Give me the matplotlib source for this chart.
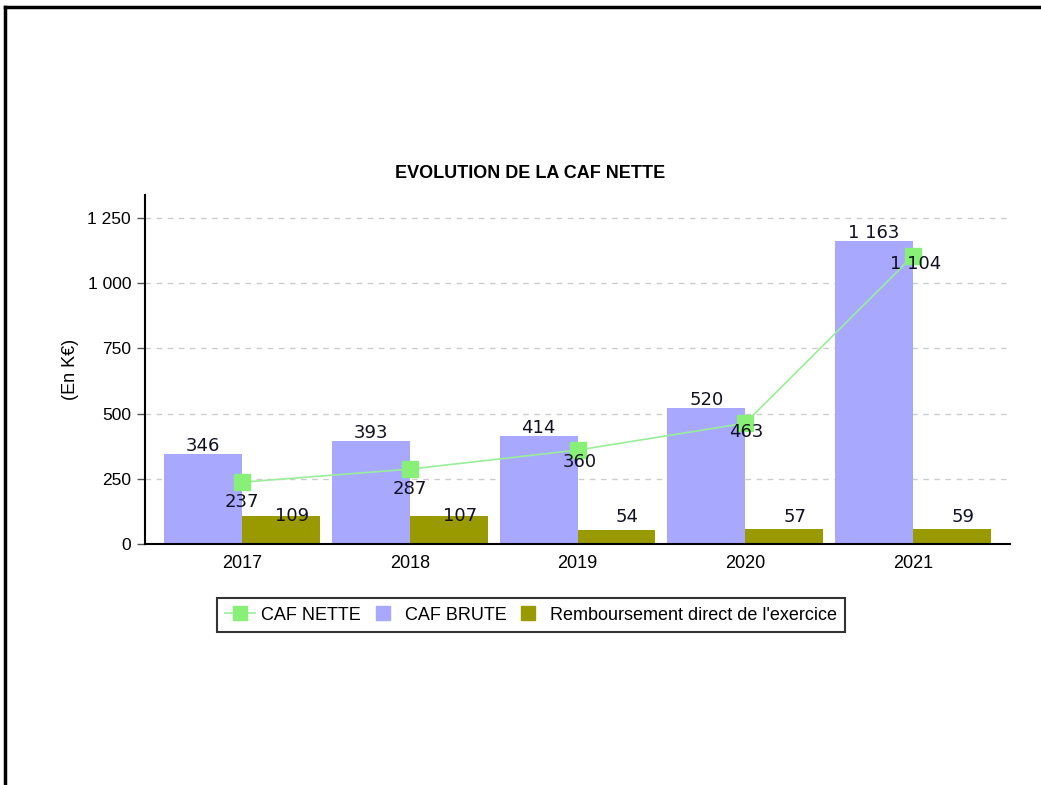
import matplotlib
matplotlib.use("Agg")
import matplotlib.pyplot as plt
from matplotlib.lines import Line2D
from matplotlib.ticker import FuncFormatter
import numpy as np

years = ["2017", "2018", "2019", "2020", "2021"]
caf_brute = [346, 393, 414, 520, 1163]
remboursement = [109, 107, 54, 57, 59]
caf_nette = [237, 287, 360, 463, 1104]
y_ticks = [0, 250, 500, 750, 1000, 1250]

# styling
C_BRUTE = "#a8a8ff"
C_REMB = "#999900"
C_LINE = "#99ee99"
C_MARK = "#88f077"
nette_label_offsets = [20, 20, 12, 9, 8]  # px below marker
nette_label_dx = [0, 0, 2, 1, 3]

plt.rcParams["font.family"] = ["Liberation Sans", "DejaVu Sans"]

fig = plt.figure(figsize=(10.41, 7.85), dpi=100)
ax = fig.add_axes([145 / 1041, 241 / 785, 865 / 1041, 349 / 785])

x = np.arange(len(years))
w = 0.464
ax.bar(x - w / 2, caf_brute, width=w, color=C_BRUTE, zorder=2)
ax.bar(x + w / 2, remboursement, width=w, color=C_REMB, zorder=2)
ax.plot(x, caf_nette, color=C_LINE, lw=1.2, marker="s", markersize=11,
        markerfacecolor=C_MARK, markeredgecolor=C_MARK, zorder=4)

lab_font = dict(family="DejaVu Sans", fontsize=13, color="#111122")
def fmt(v):
    return f"{int(v):,}".replace(",", " ")

for i, v in enumerate(caf_brute):
    ax.annotate(fmt(v), (x[i] - w / 2, v), xytext=(0, -1),
                textcoords="offset pixels", ha="center", va="bottom", zorder=5, **lab_font)
for i, v in enumerate(remboursement):
    ax.annotate(fmt(v), (x[i] + w / 2, max(v, 105)), xytext=(11, 0),
                textcoords="offset pixels", ha="center", va="center", zorder=5, **lab_font)
for i, v in enumerate(caf_nette):
    ax.annotate(fmt(v), (x[i], v),
                xytext=(nette_label_dx[i], -nette_label_offsets[i]),
                textcoords="offset pixels", ha="center", va="center", zorder=6, **lab_font)

ax.set_xlim(-0.58, 4.58)
ax.set_ylim(0, 1338)
ax.set_yticks(y_ticks)
ax.yaxis.set_major_formatter(FuncFormatter(lambda v, p: fmt(v)))
ax.set_xticks(x)
ax.set_xticklabels(years)
ax.tick_params(axis="x", labelsize=13, length=0, pad=8)
ax.tick_params(axis="y", labelsize=12.5, length=6, width=1, pad=4, color="#555555")
ax.grid(axis="y", color="#cccccc", linestyle=(0, (4, 4)), lw=1, zorder=0)
ax.set_axisbelow(True)
for s in ["top", "right"]:
    ax.spines[s].set_visible(False)
ax.spines["left"].set_linewidth(1.5)
ax.spines["bottom"].set_linewidth(1.5)
ax.set_ylabel("(En K€)", fontsize=13, labelpad=6)
fig.text(530 / 1041, 1 - 173 / 785, "EVOLUTION DE LA CAF NETTE", fontsize=13,
         fontweight="bold", ha="center", va="center")

handles = [
    Line2D([0], [0], color=C_LINE, lw=1.2, marker="s", markersize=10,
           markerfacecolor=C_MARK, markeredgecolor=C_MARK),
    Line2D([0], [0], linestyle="none", marker="s", markersize=10,
           markerfacecolor=C_BRUTE, markeredgecolor=C_BRUTE),
    Line2D([0], [0], linestyle="none", marker="s", markersize=10,
           markerfacecolor=C_REMB, markeredgecolor=C_REMB),
]
leg = fig.legend(handles, ["CAF NETTE", "CAF BRUTE", "Remboursement direct de l'exercice"],
                 loc="center", bbox_to_anchor=(531 / 1041, 1 - 615 / 785), ncol=3,
                 fontsize=13, frameon=True, fancybox=False, handlelength=1.65,
                 columnspacing=0.4, handletextpad=0.35,
                 borderpad=0.45, borderaxespad=0)
leg.get_frame().set_edgecolor("black")
leg.get_frame().set_linewidth(1.5)

# page border (top and left)
fig.add_artist(Line2D([5 / 1041, 1], [1 - 7 / 785, 1 - 7 / 785], color="black", lw=2.5,
                      transform=fig.transFigure))
fig.add_artist(Line2D([5 / 1041, 5 / 1041], [0, 1 - 7 / 785], color="black", lw=2.5,
                      transform=fig.transFigure))

fig.savefig("out.png", dpi=100)
